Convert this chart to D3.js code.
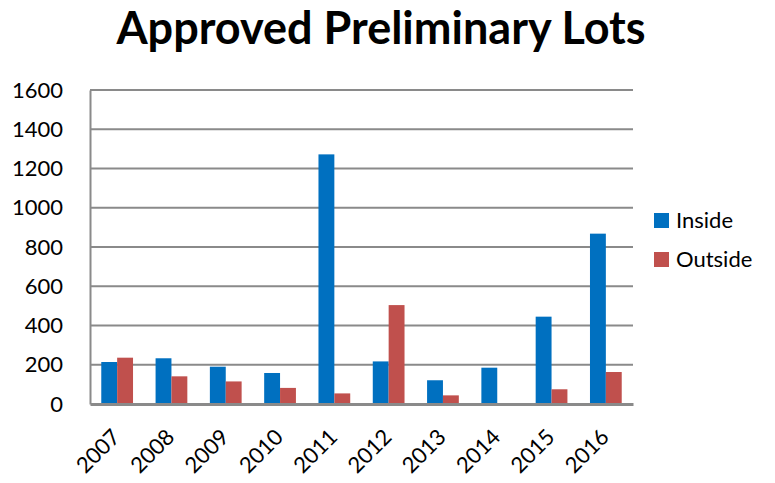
<!DOCTYPE html>
<html>
<head>
<meta charset="utf-8">
<script src="https://cdn.jsdelivr.net/npm/d3@7"></script>
<style>
  body { margin: 0; background: #fff; }
  text { font-family: Lato, "Open Sans", sans-serif; fill: #000; }
</style>
</head>
<body>
<div id="vis"></div>
<script>
// chart data
const YEARS = ["2007", "2008", "2009", "2010", "2011", "2012", "2013", "2014", "2015", "2016"];
const INSIDE = [214, 233, 190, 158, 1272, 217, 121, 185, 445, 868];
const OUTSIDE = [236, 141, 115, 82, 54, 504, 44, 5, 75, 163];
const SERIES = ["Inside", "Outside"];
const COLORS = ["#0070C0", "#C0504D"];
const Y_TICKS = [0, 200, 400, 600, 800, 1000, 1200, 1400, 1600];

const FRAME_WIDTH = 775;
const FRAME_HEIGHT = 483;
const MARGINS = {left: 90, right: 142, top: 90, bottom: 79};
const VIS_WIDTH = FRAME_WIDTH - MARGINS.left - MARGINS.right;
const VIS_HEIGHT = FRAME_HEIGHT - MARGINS.top - MARGINS.bottom;

const FRAME = d3.select("#vis")
  .append("svg")
    .attr("width", FRAME_WIDTH)
    .attr("height", FRAME_HEIGHT);

// title
FRAME.append("text")
  .attr("x", 381)
  .attr("y", 44)
  .attr("text-anchor", "middle")
  .attr("font-size", "45px")
  .attr("font-weight", "bold")
  .text("Approved Preliminary Lots");

const X_SCALE = d3.scaleBand()
  .domain(YEARS)
  .range([0, VIS_WIDTH]);

const X_INNER = d3.scaleBand()
  .domain(SERIES)
  .range([0, X_SCALE.bandwidth()])
  .paddingOuter(0.71)
  .paddingInner(0);

const Y_SCALE = d3.scaleLinear()
  .domain([0, 1600])
  .range([VIS_HEIGHT, 0]);

const g = FRAME.append("g")
  .attr("transform", "translate(" + MARGINS.left + "," + MARGINS.top + ")");

// gridlines
g.selectAll(".grid")
  .data(Y_TICKS.slice(1))
  .enter()
  .append("line")
    .attr("x1", 0)
    .attr("x2", VIS_WIDTH)
    .attr("y1", (d) => Y_SCALE(d))
    .attr("y2", (d) => Y_SCALE(d))
    .attr("stroke", "#8a8a8a")
    .attr("stroke-width", 2);

// bars
const rows = YEARS.map((y, i) => ({year: y, values: [INSIDE[i], OUTSIDE[i]]}));
const groups = g.selectAll(".yr")
  .data(rows)
  .enter()
  .append("g")
    .attr("transform", (d) => "translate(" + X_SCALE(d.year) + ",0)");

groups.selectAll("rect")
  .data((d) => d.values.map((v, j) => ({s: SERIES[j], v: v, c: COLORS[j]})))
  .enter()
  .append("rect")
    .attr("x", (d) => X_INNER(d.s))
    .attr("width", X_INNER.bandwidth())
    .attr("y", (d) => Y_SCALE(d.v))
    .attr("height", (d) => VIS_HEIGHT - Y_SCALE(d.v))
    .attr("fill", (d) => d.c);

// y axis
const yAxis = g.append("g")
  .call(d3.axisLeft(Y_SCALE).tickValues(Y_TICKS).tickFormat(d3.format("d"))
        .tickSize(0).tickPadding(27));
yAxis.select(".domain").attr("stroke", "#8a8a8a").attr("stroke-width", 2);
yAxis.selectAll("text")
  .attr("font-size", "22px")
  .attr("font-family", "Lato, sans-serif")
  .attr("fill", "#000");

// x axis
const xAxis = g.append("g")
  .attr("transform", "translate(0," + VIS_HEIGHT + ")")
  .call(d3.axisBottom(X_SCALE).tickSize(0).tickPadding(0));
xAxis.select(".domain").attr("stroke", "#8a8a8a").attr("stroke-width", 3);
xAxis.selectAll("text")
  .attr("font-size", "22px")
  .attr("font-family", "Lato, sans-serif")
  .attr("fill", "#000")
  .attr("text-anchor", "end")
  .attr("dy", "0.35em")
  .attr("transform", "translate(-1,29) rotate(-45)");

// legend
const legend = FRAME.selectAll(".legend")
  .data(SERIES)
  .enter()
  .append("g")
    .attr("transform", (d, i) => "translate(654," + (213 + i * 39) + ")");
legend.append("rect")
  .attr("width", 15)
  .attr("height", 15)
  .attr("fill", (d, i) => COLORS[i]);
legend.append("text")
  .attr("x", 22)
  .attr("y", 15)
  .attr("font-size", "22px")
  .text((d) => d);
</script>
</body>
</html>
